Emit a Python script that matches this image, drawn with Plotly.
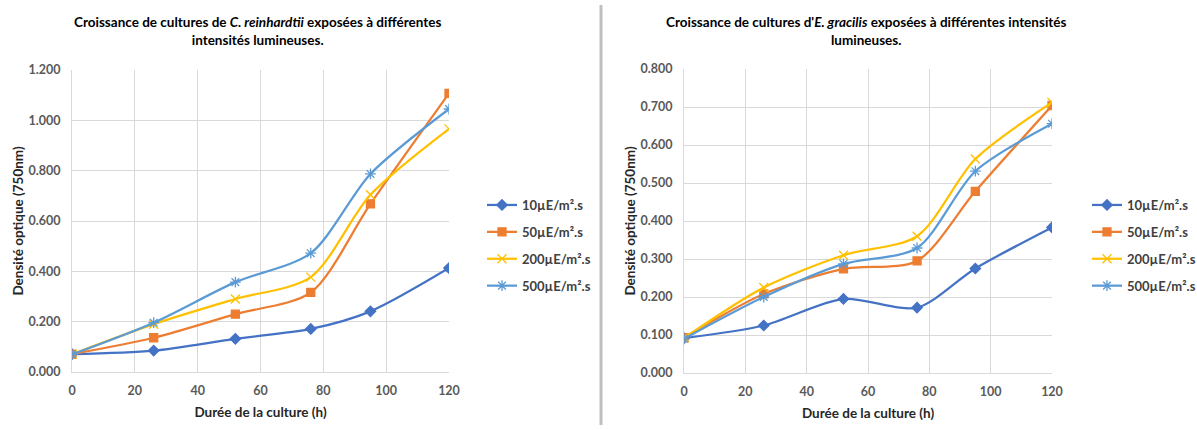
import plotly.graph_objects as go

# ---------------- data ----------------
hours = [0, 26, 52, 76, 95, 120]
series_names = ["10µE/m².s", "50µE/m².s", "200µE/m².s", "500µE/m².s"]

c_rein_10 = [0.071, 0.085, 0.132, 0.171, 0.241, 0.413]
c_rein_50 = [0.071, 0.136, 0.230, 0.316, 0.668, 1.107]
c_rein_200 = [0.070, 0.190, 0.290, 0.377, 0.704, 0.966]
c_rein_500 = [0.070, 0.196, 0.357, 0.472, 0.787, 1.045]

e_grac_10 = [0.092, 0.125, 0.195, 0.172, 0.275, 0.383]
e_grac_50 = [0.093, 0.208, 0.274, 0.295, 0.478, 0.704]
e_grac_200 = [0.092, 0.225, 0.310, 0.360, 0.563, 0.712]
e_grac_500 = [0.090, 0.200, 0.287, 0.329, 0.531, 0.656]

x_ticks = [0, 20, 40, 60, 80, 100, 120]
left_y_ticks = [0, 0.2, 0.4, 0.6, 0.8, 1.0, 1.2]
right_y_ticks = [0, 0.1, 0.2, 0.3, 0.4, 0.5, 0.6, 0.7, 0.8]

# ---------------- styles ----------------
colors = ["#4472C4", "#ED7D31", "#FFC000", "#5B9BD5"]
symbols = ["diamond", "square", "x-thin-open", "asterisk-open"]
msizes = [8, 8, 9, 9]
FONT = "Lato"

fig = go.Figure()

left_data = [c_rein_10, c_rein_50, c_rein_200, c_rein_500]
right_data = [e_grac_10, e_grac_50, e_grac_200, e_grac_500]

for i, (name, ys) in enumerate(zip(series_names, left_data)):
    fig.add_trace(go.Scatter(
        x=hours, y=ys, name=name, mode="lines+markers",
        line=dict(color=colors[i], width=2.25, shape="spline", smoothing=0.8),
        marker=dict(symbol=symbols[i], size=msizes[i], color=colors[i],
                    line=dict(color=colors[i], width=1.3)),
        xaxis="x", yaxis="y", legend="legend", legendgroup=f"l{i}",
    ))

for i, (name, ys) in enumerate(zip(series_names, right_data)):
    fig.add_trace(go.Scatter(
        x=hours, y=ys, name=name, mode="lines+markers",
        line=dict(color=colors[i], width=2.25, shape="spline", smoothing=0.8),
        marker=dict(symbol=symbols[i], size=msizes[i], color=colors[i],
                    line=dict(color=colors[i], width=1.3)),
        xaxis="x2", yaxis="y2", legend="legend2", legendgroup=f"r{i}",
    ))

W, H = 1197, 430


def px_x(p):
    return p / W


def px_y(p):
    return 1 - p / H


axis_common = dict(
    showgrid=True, gridcolor="#D9D9D9", gridwidth=1, automargin=False,
    zeroline=False, showline=True, linecolor="#D9D9D9", linewidth=1,
    ticks="", tickfont=dict(family=FONT, size=12.5, color="#595959", weight="bold"),
    mirror=False,
)
title_font = dict(family=FONT, size=13.5, color="#262626")

fig.update_layout(
    width=W, height=H,
    margin=dict(l=0, r=0, t=0, b=0, autoexpand=False),
    paper_bgcolor="white", plot_bgcolor="white",
    font=dict(family=FONT),
    xaxis=dict(domain=[px_x(72), px_x(449)], range=[0, 120], tickvals=x_ticks,
               ticklabelstandoff=7,
               title=dict(text="<b>Durée de la culture (h)</b>", font=title_font, standoff=10),
               anchor="y", **axis_common),
    yaxis=dict(domain=[px_y(372), px_y(70)], range=[0, 1.2], tickvals=left_y_ticks,
               tickformat=".3f", ticklabelstandoff=8,
               title=dict(text="<b>Densité optique (750nm)</b>", font=title_font, standoff=1),
               anchor="x", **axis_common),
    xaxis2=dict(domain=[px_x(684), px_x(1052)], range=[0, 120], tickvals=x_ticks,
                ticklabelstandoff=7,
                title=dict(text="<b>Durée de la culture (h)</b>", font=title_font, standoff=10),
                anchor="y2", **axis_common),
    yaxis2=dict(domain=[px_y(373), px_y(69)], range=[0, 0.8], tickvals=right_y_ticks,
                tickformat=".3f", ticklabelstandoff=8,
                title=dict(text="<b>Densité optique (750nm)</b>", font=title_font, standoff=1),
                anchor="x2", **axis_common),
    legend=dict(x=px_x(482), y=px_y(190), xanchor="left", yanchor="top",
                font=dict(family=FONT, size=13, color="#404040", weight="bold"),
                tracegroupgap=7, itemwidth=30, bgcolor="rgba(0,0,0,0)"),
    legend2=dict(x=px_x(1087), y=px_y(190), xanchor="left", yanchor="top",
                 font=dict(family=FONT, size=13, color="#404040", weight="bold"),
                 tracegroupgap=7, itemwidth=30, bgcolor="rgba(0,0,0,0)"),
    showlegend=True,
)

# Titles
fig.add_annotation(
    text="<b>Croissance de cultures de <i>C. reinhardtii</i> exposées à différentes<br>intensités lumineuses.</b>",
    x=px_x(257), y=px_y(12), xref="paper", yref="paper", xanchor="center", yanchor="top",
    showarrow=False, align="center", font=dict(family=FONT, size=13.5, color="#000000"),
)
fig.add_annotation(
    text="<b>Croissance de cultures d'<i>E. gracilis</i> exposées à différentes intensités<br>lumineuses.</b>",
    x=px_x(866), y=px_y(12), xref="paper", yref="paper", xanchor="center", yanchor="top",
    showarrow=False, align="center", font=dict(family=FONT, size=13.5, color="#000000"),
)

# Separator between the two charts
fig.add_shape(type="line", xref="paper", yref="paper",
              x0=px_x(601), x1=px_x(601), y0=px_y(5), y1=px_y(425),
              line=dict(color="#BFBFBF", width=3))

fig.write_html("out.html")
